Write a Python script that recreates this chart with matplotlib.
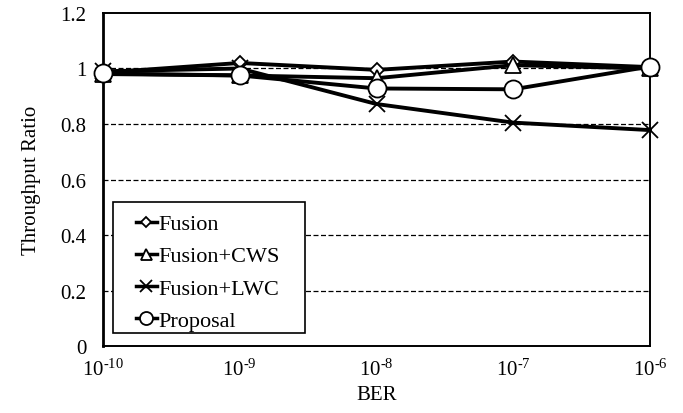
"Throughput ratio versus BER for the Fusion variants and the proposal."

import matplotlib
matplotlib.use("Agg")
import matplotlib.pyplot as plt
from matplotlib.patches import Rectangle

plt.rcParams["font.family"] = ["Liberation Serif", "DejaVu Serif"]
plt.rcParams["mathtext.fontset"] = "custom"
plt.rcParams["mathtext.rm"] = "Liberation Serif"
plt.rcParams["mathtext.it"] = "Liberation Serif"

ber_labels = ["$10^{\\text{-}10}$", "$10^{\\text{-}9}$", "$10^{\\text{-}8}$",
              "$10^{\\text{-}7}$", "$10^{\\text{-}6}$"]
fusion = [0.985, 1.02, 0.995, 1.025, 1.005]
fusion_cws = [0.98, 0.975, 0.965, 1.012, 1.0]
fusion_lwc = [0.99, 1.0, 0.872, 0.805, 0.778]
proposal = [0.982, 0.975, 0.928, 0.925, 1.007]

series = [
    ("Fusion", fusion, "D", 7.5),
    ("Fusion+CWS", fusion_cws, "^", 11),
    ("Fusion+LWC", fusion_lwc, "x", 12),
    ("Proposal", proposal, "o", 13),
]

fig = plt.figure(figsize=(6.83, 4.14), dpi=100)
ax = fig.add_axes([0.1508, 0.1618, 0.8009, 0.8044])

x = list(range(len(ber_labels)))
for label, values, marker, size in series:
    ax.plot(x, values, color="black", linewidth=2.8, marker=marker,
            markersize=size, markerfacecolor="white",
            markeredgecolor="black", markeredgewidth=1.3, label=label,
            clip_on=False, zorder=3)

ax.set_xlim(0, 4)
ax.set_ylim(0, 1.2)
ax.set_yticks([0, 0.2, 0.4, 0.6, 0.8, 1, 1.2])
ax.set_yticklabels(["0", "0.2", "0.4", "0.6", "0.8", "1", "1.2"])
ax.set_xticks(x)
ax.set_xticklabels(ber_labels)
ax.tick_params(axis="both", length=0, labelsize=15)
ax.tick_params(axis="x", pad=9)
ax.tick_params(axis="y", pad=12)

for yv in [0.2, 0.4, 0.6, 0.8, 1.0]:
    ax.axhline(yv, color="black", linewidth=0.9, linestyle=(0, (4, 2)), zorder=1)

for side in ["left", "right", "top", "bottom"]:
    ax.spines[side].set_linewidth(1.4)
ax.spines["left"].set_linewidth(2.0)

ax.set_xlabel("BER", fontsize=15, labelpad=4)
ax.set_ylabel("Throughput Ratio", fontsize=15, labelpad=14)

# legend box drawn separately so the padding matches the original layout
box = Rectangle((0.0183, 0.039), 0.351, 0.394, transform=ax.transAxes,
                facecolor="white", edgecolor="black", linewidth=1.2, zorder=4)
ax.add_patch(box)

leg = ax.legend(loc="upper left", bbox_to_anchor=(0.06, 0.397), fontsize=16,
                frameon=False, handlelength=0.95, handletextpad=0.05,
                borderpad=0, labelspacing=0.52, markerscale=0.72,
                borderaxespad=0)
leg.set_zorder(5)
for line in leg.get_lines():
    line.set_linewidth(2.5)

fig.savefig("out.png", dpi=100)
